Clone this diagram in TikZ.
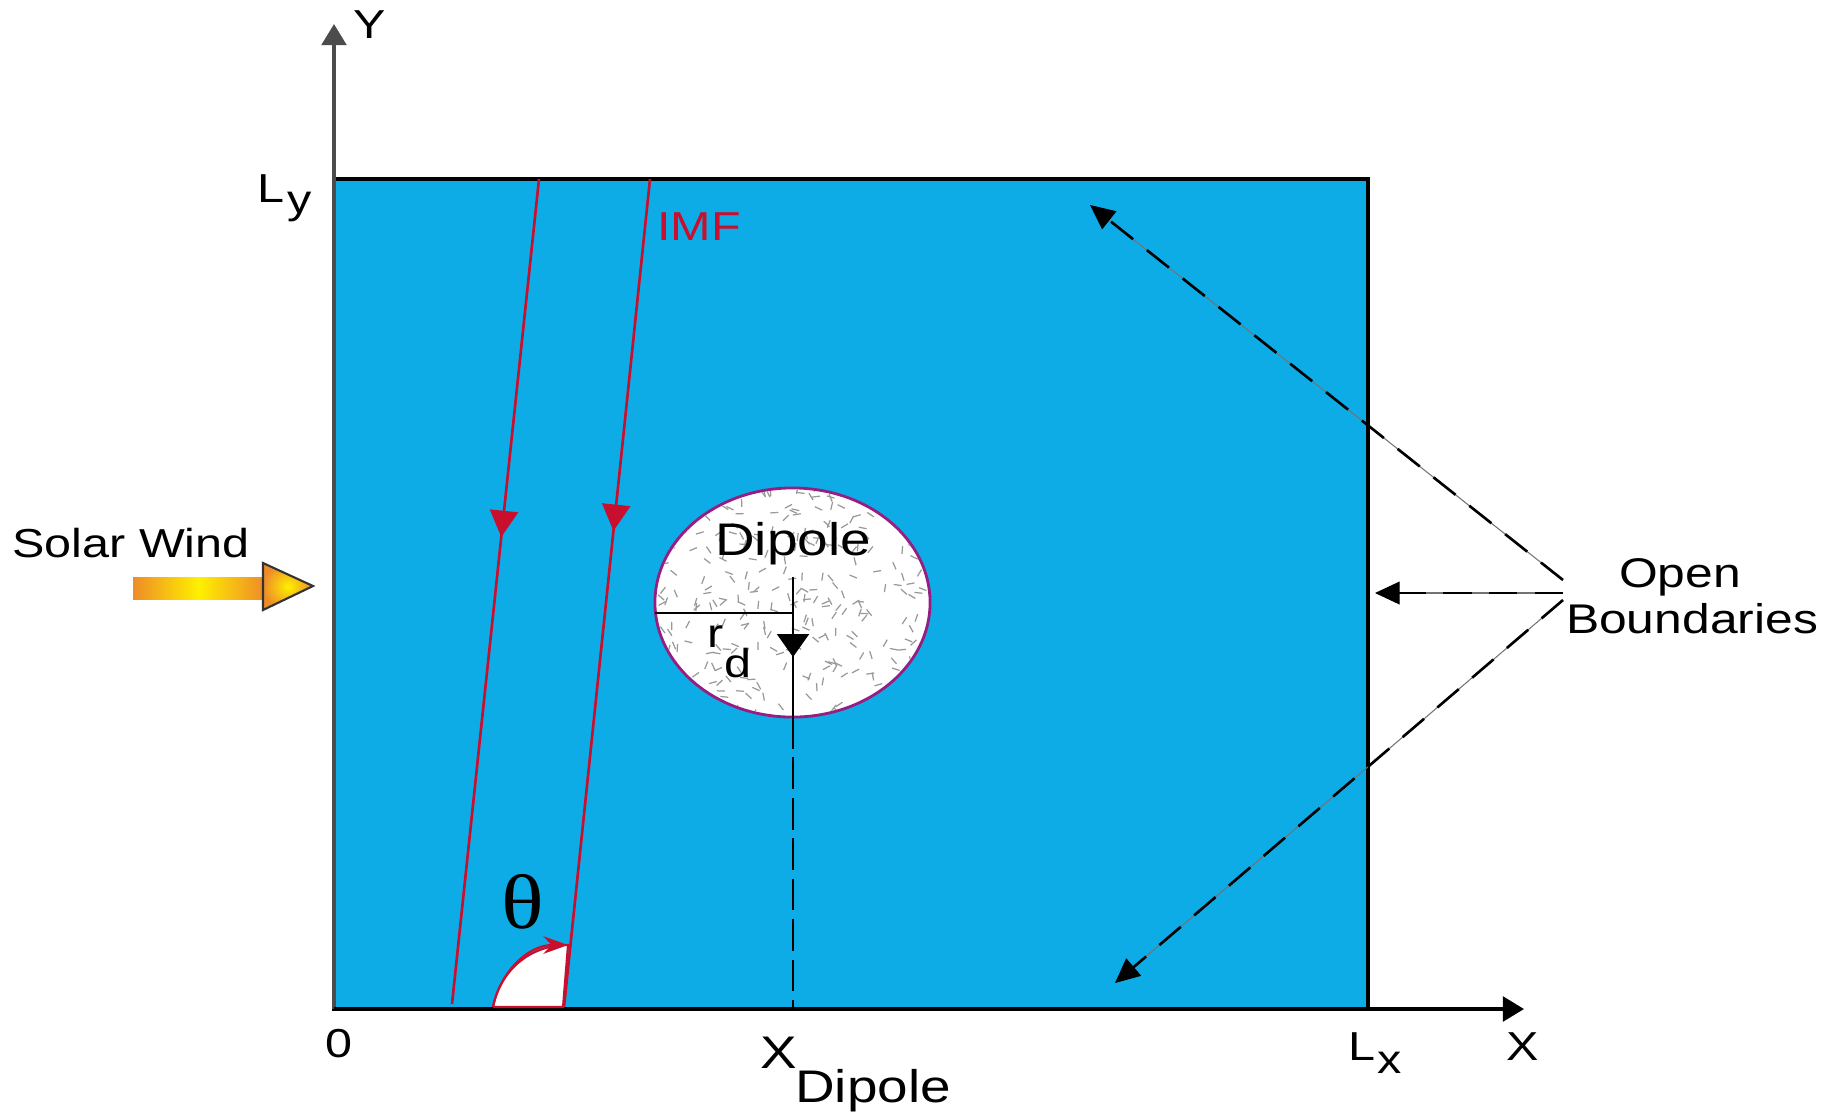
\documentclass[tikz,border=0pt]{standalone}
\usepackage{fontspec}
\setmainfont[FakeStretch=1.2]{Liberation Sans}
\newfontfamily\thetafont[FakeStretch=1.15]{Liberation Serif}
\usetikzlibrary{arrows.meta,decorations.markings,shapes.geometric}
\definecolor{skyb}{RGB}{14,172,230}
\definecolor{imfred}{RGB}{200,16,46}
\definecolor{dipedge}{RGB}{150,30,130}
\definecolor{swor}{RGB}{238,140,40}
\definecolor{swye}{RGB}{255,240,0}
\begin{document}
\begin{tikzpicture}[x=0.01cm,y=-0.01cm,
  lbl/.style={font=\fontsize{11.5}{14}\selectfont, inner sep=0pt},
  biglbl/.style={font=\fontsize{13}{16}\selectfont, inner sep=0pt},
  axisline/.style={line width=1pt, black!70, -{Triangle[length=6pt,width=7pt]}},
  obbase/.style={line width=0.3pt, black!55, -{Triangle[length=7pt,width=6.5pt,black]}},
  obdash/.style={line width=0.75pt, black, dash pattern=on 8pt off 5pt},
  imfline/.style={imfred, line width=0.75pt, postaction={decorate}}]
\useasboundingbox (0,0) rectangle (1837,1117);

% domain
\filldraw[fill=skyb, draw=black, line width=1pt] (334,179) rectangle (1368,1009);

% axes
\coordinate (O) at (334,1009);
\coordinate (Ytip) at (334,24);
\coordinate (Xtip) at (1524,1009);
\draw[axisline] (O) -- (Ytip);
\draw[axisline, black] (O) -- (Xtip);

% axis labels
\node[lbl, anchor=base] (ylab) at (370,38) {Y};
\node[lbl, anchor=base] (xlab) at (1523,1060) {X};
\node[lbl, anchor=base] (zero) at (339,1057) {0};
\node[lbl, anchor=base west] (LyL) at (257,202) {L};
\node[lbl, anchor=base west] (Lys) at (287,213) {y};
\node[lbl, anchor=base west] (LxL) at (1348,1060) {L};
\node[lbl, anchor=base west] (Lxs) at (1377,1073) {x};
\node[biglbl, anchor=base] (xdip) at (779,1068) {X};
\node[biglbl, anchor=base] (xdipsub) at (873,1102) {Dipole};

% IMF lines
\coordinate (i1a) at (539,179); \coordinate (i1b) at (452,1004);
\coordinate (i2a) at (650,179); \coordinate (i2b) at (564,1007);
\draw[imfline, decoration={markings, mark=at position 0.434 with {\arrow{Triangle[length=7.5pt,width=8pt]}}}] (i1a) -- (i1b);
\draw[imfline, decoration={markings, mark=at position 0.425 with {\arrow{Triangle[length=7.5pt,width=8pt]}}}] (i2a) -- (i2b);
\node[lbl, text=imfred, anchor=base] (imf) at (699,240) {IMF};

% angle theta
\coordinate (ta) at (493,1007);
\coordinate (tb) at (563,1007);
\coordinate (tc) at (568,945);
\filldraw[fill=white, draw=imfred, line width=0.6pt] (ta) -- (tb) -- (tc) .. controls (528,945) and (500,972) .. (ta);
\draw[imfred, line width=0.6pt, -{Stealth[length=7pt,width=5pt]}] (ta) .. controls (500,972) and (528,945) .. (tc);
\node[font=\thetafont\fontsize{22}{24}\selectfont, inner sep=0pt, anchor=base] (theta) at (523,928) {θ};

% dipole
\node[ellipse, draw=dipedge, fill=white, line width=0.8pt, minimum width=2.75cm, minimum height=2.29cm, inner sep=0pt] (dip) at (792.5,602.5) {};
\begin{scope}
  \clip (792.5,602.5) ellipse [x radius=136, y radius=113];
  \pgfmathsetseed{11}
  \foreach \i in {1,...,300}{
    \pgfmathsetmacro\xx{655+275*rnd}
    \pgfmathsetmacro\yy{488+229*rnd}
    \pgfmathsetmacro\aa{360*rnd}
    \draw[black!40, line width=0.35pt] (\xx,\yy) -- ++(\aa:8);
  }
\end{scope}
\node[biglbl, anchor=base] (diplab) at (793,555) {Dipole};
\coordinate (rl) at (655,613);
\coordinate (rc) at (793,613);
\coordinate (vtop) at (793,577);
\coordinate (vtip) at (793,657);
\coordinate (vbot) at (793,717);
\draw[line width=0.8pt] (rl) -- (rc);
\draw[line width=0.8pt, -{Triangle[length=6.5pt,width=9pt]}] (vtop) -- (vtip);
\draw[line width=0.8pt] (793,650) -- (vbot);
\draw[line width=0.8pt, dash pattern=on 9pt off 2.5pt] (vbot) -- (793,1009);
\node[lbl, anchor=base] (rr) at (716,647) {r};
\node[lbl, anchor=base] (rd) at (738,677) {d};

% solar wind
\node[lbl, anchor=base] (sw) at (131,557) {Solar Wind};
\shade[left color=swor, right color=swor, middle color=swye] (133,577) rectangle (264,599);
\shade[inner color=swye, outer color=swor] (263,563) -- (313,586) -- (263,610) -- cycle;
\draw[line width=0.6pt, black!80] (263,563) -- (313,586) -- (263,610) -- cycle;

% open boundaries
\node[font=\fontsize{11.8}{14}\selectfont, inner sep=0pt, anchor=base] (open) at (1680,587) {Open};
\node[font=\fontsize{11.8}{14}\selectfont, inner sep=0pt, anchor=base] (bound) at (1692,633) {Boundaries};
\coordinate (ob1) at (1563,580);
\coordinate (ob2) at (1563,593);
\coordinate (ob3) at (1563,600);
\coordinate (t1) at (1090,205);
\coordinate (t2) at (1375,593);
\coordinate (t3) at (1115,983);
\foreach \s/\t in {ob1/t1, ob2/t2, ob3/t3}{
  \draw[obbase] (\s) -- (\t);
  \draw[obdash, shorten >=6pt] (\s) -- (\t);
}
\end{tikzpicture}
\end{document}
